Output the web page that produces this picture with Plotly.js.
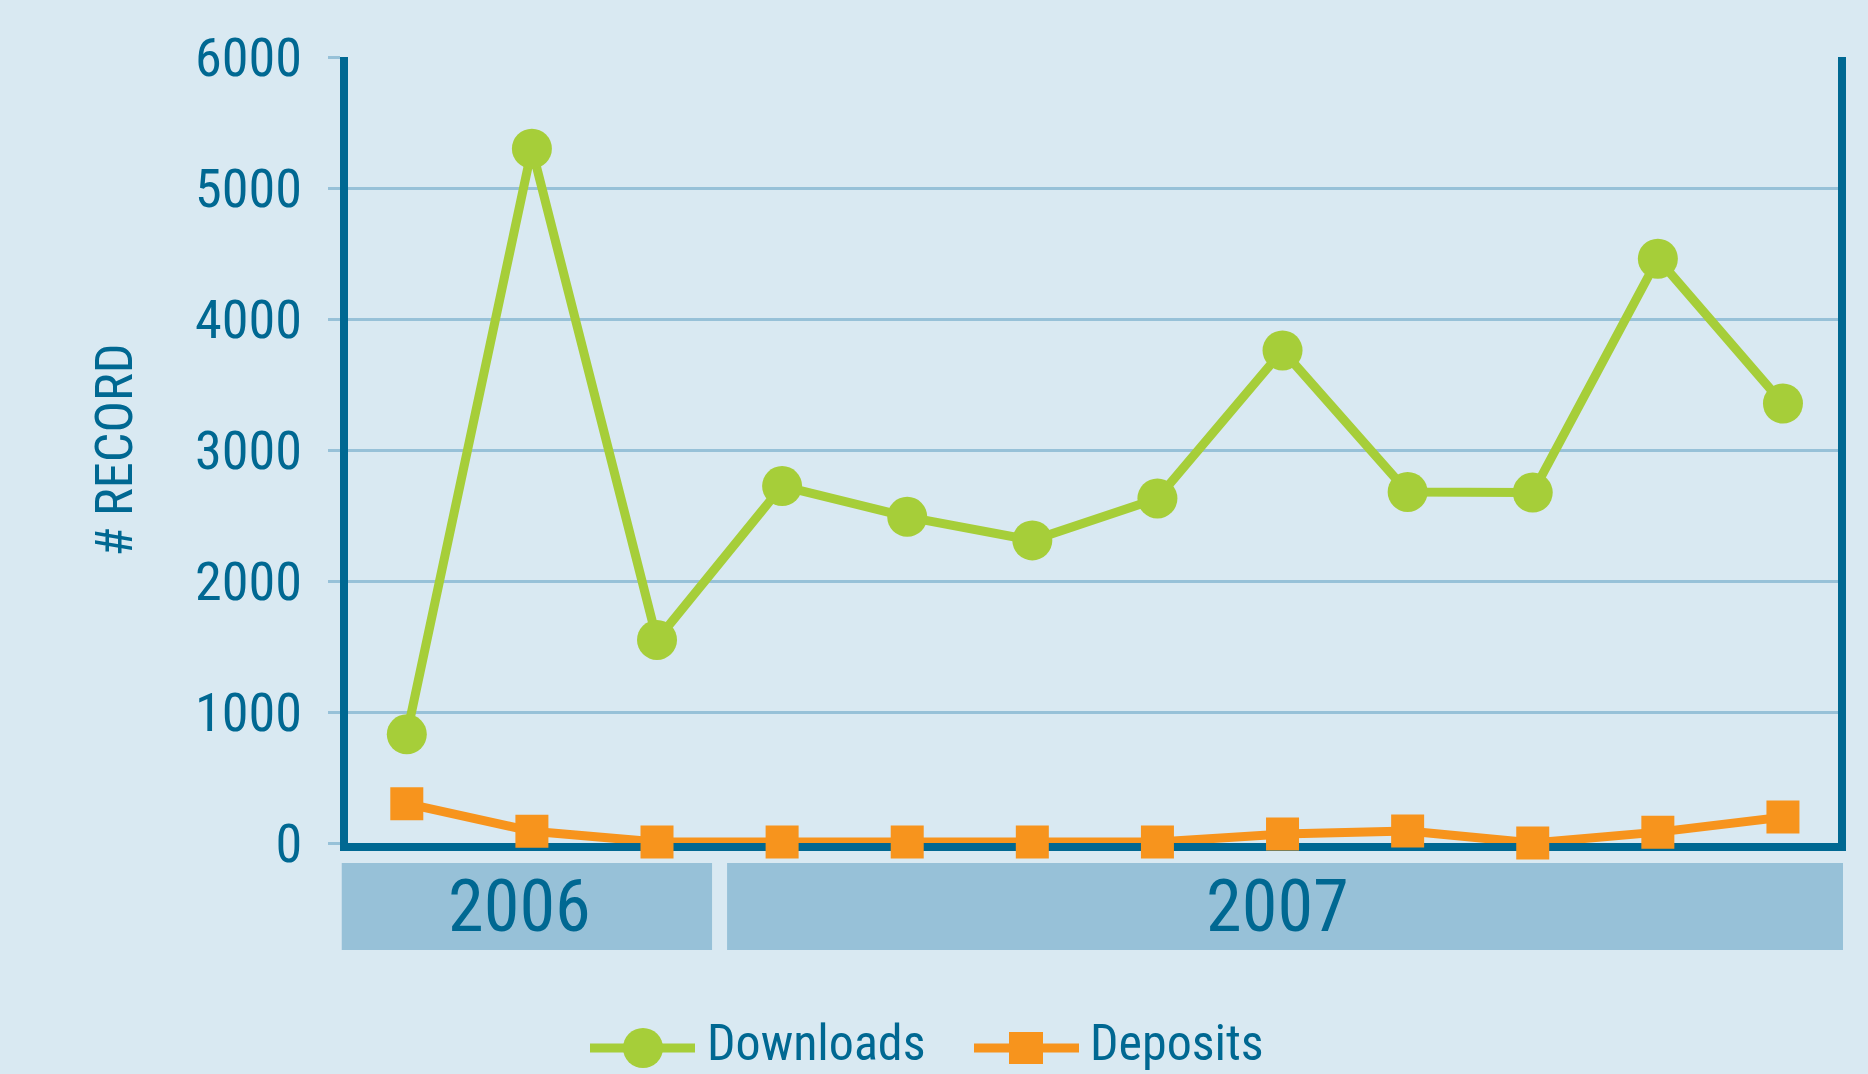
<!DOCTYPE html>
<html><head><meta charset="utf-8">
<script src="https://cdn.plot.ly/plotly-3.0.1.min.js"></script>
<style>html,body{margin:0;padding:0;background:#d9e9f2;}#chart{width:1868px;height:1074px;}</style>
</head><body><div id="chart"></div>
<script>
// ---- data ----
const months = ['Oct 2006','Nov 2006','Dec 2006','Jan 2007','Feb 2007','Mar 2007','Apr 2007','May 2007','Jun 2007','Jul 2007','Aug 2007','Sep 2007'];
const years = ['2006','2006','2006','2007','2007','2007','2007','2007','2007','2007','2007','2007'];
const downloads = [830, 5300, 1550, 2725, 2490, 2310, 2630, 3760, 2680, 2675, 4460, 3355];
const deposits = [300, 90, 7, 7, 7, 7, 7, 68, 91, 0, 83, 198];
const seriesNames = ['Downloads', 'Deposits'];
const yTicks = [0, 1000, 2000, 3000, 4000, 5000, 6000];
const yTitle = '# RECORD';

// ---- font choice (first installed condensed face) ----
const cv = document.createElement('canvas').getContext('2d');
function textW(str, fam, size) { cv.font = size + 'px ' + fam; return cv.measureText(str).width; }
function installed(name) {
  const s = 'abcdefghijklmnopqrstuvwxyzABCDEFGHIJ0123456789#';
  return ['monospace', 'serif'].some(fb => Math.abs(textW(s, "'" + name + "'," + fb, 100) - textW(s, fb, 100)) > 0.5);
}
const candidates = ['Liberation Sans Narrow', 'Noto Sans Condensed', 'Roboto Condensed', 'Open Sans Condensed', 'DejaVu Sans Condensed', 'Liberation Sans'];
const chosen = candidates.find(installed) || 'DejaVu Sans Condensed';
const FONT = "'" + chosen + "', 'DejaVu Sans Condensed', sans-serif";
function fitSize(str, targetW, maxSize) {
  const w100 = textW(str, FONT, 100);
  return Math.min(maxSize, targetW / w100 * 100 * 1.05);
}
const tickSize = fitSize('6000', 102, 58);
const yearSize = fitSize('2006', 136, 74);
const legSize = fitSize('Downloads', 212, 50);
const titleSize = fitSize(yTitle, 203, 55);

// ---- style ----
const BG = '#d9e9f2', AXIS = '#006892', GRID = '#97c1d8', BAND = '#97c1d8';
const GREEN = '#a6ce39', ORANGE = '#f7941d', TEXT = '#006892';
const W = 1868, H = 1074, ML = 348, MR = 30, MT = 57, MB = 231;
const PW = W - ML - MR, PH = H - MT - MB;
const XR = [-0.47, 11.44];
const pxX = p => (p - ML) / PW;
const pxY = p => (H - MB - p) / PH;
const idxX = i => (i - XR[0]) / (XR[1] - XR[0]);   // category index -> paper x

const traces = [
  {x: months, y: downloads, name: seriesNames[0], type: 'scatter', mode: 'lines+markers',
   line: {color: GREEN, width: 9}, marker: {color: GREEN, size: 40, symbol: 'circle'}, cliponaxis: false},
  {x: months, y: deposits, name: seriesNames[1], type: 'scatter', mode: 'lines+markers',
   line: {color: ORANGE, width: 9}, marker: {color: ORANGE, size: 33, symbol: 'square'}, cliponaxis: false}
];

// year bands from the year groups
const shapes = [], annotations = [];
const groups = [];
years.forEach((y, i) => {
  if (!groups.length || groups[groups.length - 1].year !== y) groups.push({year: y, first: i, last: i});
  else groups[groups.length - 1].last = i;
});
groups.forEach((g, gi) => {
  const x0 = gi === 0 ? g.first - 0.52 : g.first - 0.44;
  const x1 = gi === groups.length - 1 ? g.last + 0.48 : g.last + 0.44;
  shapes.push({type: 'rect', xref: 'paper', yref: 'paper', x0: idxX(x0), x1: idxX(x1), y0: pxY(950), y1: pxY(863),
    fillcolor: BAND, line: {width: 0}, layer: 'below'});
  annotations.push({xref: 'paper', yref: 'paper', x: idxX((x0 + x1) / 2 - 0.06), y: pxY(906), text: g.year,
    showarrow: false, xanchor: 'center', yanchor: 'middle', font: {family: FONT, size: yearSize, color: TEXT}});
});

// custom legend
const legendItems = [
  {name: seriesNames[0], color: GREEN, symbol: 'circle', lx0: 590, lx1: 695, mx: 643, tx: 706, hw: 20, hh: 20},
  {name: seriesNames[1], color: ORANGE, symbol: 'rect', lx0: 974, lx1: 1079, mx: 1026, tx: 1089, hw: 17, hh: 16}
];
const LY = 1048;
legendItems.forEach(it => {
  shapes.push({type: 'line', xref: 'paper', yref: 'paper', x0: pxX(it.lx0), x1: pxX(it.lx1), y0: pxY(LY), y1: pxY(LY),
    line: {color: it.color, width: 9}});
  shapes.push({type: it.symbol, xref: 'paper', yref: 'paper', xsizemode: 'pixel', ysizemode: 'pixel',
    xanchor: pxX(it.mx), yanchor: pxY(LY), x0: -it.hw, x1: it.hw, y0: -it.hh, y1: it.hh,
    fillcolor: it.color, line: {width: 0}});
  annotations.push({xref: 'paper', yref: 'paper', x: pxX(it.tx), y: pxY(H - 1), text: it.name, showarrow: false,
    xanchor: 'left', yanchor: 'bottom', borderpad: 0, font: {family: FONT, size: legSize, color: TEXT}});
});

const labelW = textW('6000', FONT, tickSize);
const tickStandoff = Math.max(0, Math.round(27 - 0.23 * tickSize));   // integer attribute
const labelsLeft = 301 - labelW;
const titleStandoff = Math.max(0, Math.round(labelsLeft - 111 - 0.58 * titleSize - 3.5));

const layout = {
  width: W, height: H,
  paper_bgcolor: BG, plot_bgcolor: BG,
  margin: {l: ML, r: MR, t: MT, b: MB, pad: 0},
  showlegend: false,
  font: {family: FONT, color: TEXT},
  xaxis: {type: 'category', categoryorder: 'array', categoryarray: months, range: XR,
    showgrid: false, zeroline: false, showticklabels: false, ticks: '',
    showline: true, linecolor: AXIS, linewidth: 8, mirror: false, layer: 'below traces', fixedrange: true},
  yaxis: {range: [0, 6000], tickmode: 'array', tickvals: yTicks, ticktext: yTicks.map(String),
    showgrid: true, gridcolor: GRID, gridwidth: 3, zeroline: false,
    showline: true, linecolor: AXIS, linewidth: 8, mirror: true, layer: 'below traces',
    ticks: 'outside', ticklen: 12, tickwidth: 3, tickcolor: GRID, ticklabelstandoff: tickStandoff,
    tickfont: {family: FONT, size: tickSize, color: TEXT},
    title: {text: yTitle, font: {family: FONT, size: titleSize, color: TEXT}, standoff: titleStandoff}, fixedrange: true},
  shapes: shapes,
  annotations: annotations
};

Plotly.newPlot('chart', traces, layout, {displayModeBar: false, staticPlot: true});
</script>
</body></html>
